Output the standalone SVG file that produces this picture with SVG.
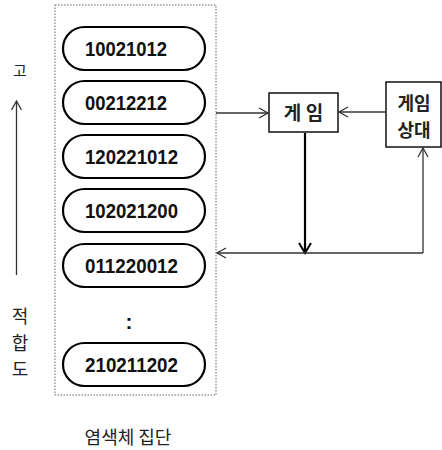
<svg xmlns="http://www.w3.org/2000/svg" width="442" height="450" viewBox="0 0 442 450">
<defs>
<style>
.pill{fill:#fff;stroke:#000;stroke-width:2.2}
.num{font-family:"Liberation Sans","Noto Sans CJK KR",sans-serif;font-weight:bold;font-size:21px;fill:#111}
.kr{font-family:"Noto Sans CJK KR","Liberation Sans",sans-serif;fill:#222}
.box{fill:#fff;stroke:#111;stroke-width:1.5}
.ln{fill:none;stroke:#333;stroke-width:1.3}
</style>
<marker id="ah" markerWidth="12" markerHeight="12" refX="10" refY="6" orient="auto" markerUnits="userSpaceOnUse">
<path d="M1,1 L10,6 L1,11" fill="none" stroke="#333" stroke-width="1.3"/>
</marker>
<marker id="ahb" markerWidth="14" markerHeight="14" refX="11" refY="7" orient="auto" markerUnits="userSpaceOnUse">
<path d="M1,1 L11,7 L1,13" fill="none" stroke="#000" stroke-width="2"/>
</marker>
</defs>
<rect x="0" y="0" width="442" height="450" fill="#fff"/>

<g id="axis">
<text class="kr" x="20" y="76" font-size="15" text-anchor="middle">고</text>
<line class="ln" x1="16.5" y1="275" x2="16.5" y2="101" marker-end="url(#ah)"/>
<text class="kr" x="20" y="323" font-size="18" text-anchor="middle">적</text>
<text class="kr" x="20" y="350" font-size="18" text-anchor="middle">합</text>
<text class="kr" x="20" y="376" font-size="18" text-anchor="middle">도</text>
</g>

<g id="population">
<rect x="55" y="5" width="161" height="390" fill="none" stroke="#666" stroke-width="1" stroke-dasharray="1.5,1.5"/>
<text class="kr" x="128" y="444" font-size="18" text-anchor="middle">염색체 집단</text>
</g>

<g id="c1"><rect class="pill" x="63" y="27" width="142" height="43" rx="21.5"/><text class="num" x="85" y="56" textLength="82" lengthAdjust="spacingAndGlyphs">10021012</text></g>
<g id="c2"><rect class="pill" x="63" y="81" width="142" height="43" rx="21.5"/><text class="num" x="85" y="110" textLength="82" lengthAdjust="spacingAndGlyphs">00212212</text></g>
<g id="c3"><rect class="pill" x="63" y="135" width="142" height="43" rx="21.5"/><text class="num" x="85" y="164" textLength="93" lengthAdjust="spacingAndGlyphs">120221012</text></g>
<g id="c4"><rect class="pill" x="63" y="189" width="142" height="43" rx="21.5"/><text class="num" x="85" y="218" textLength="93" lengthAdjust="spacingAndGlyphs">102021200</text></g>
<g id="c5"><rect class="pill" x="63" y="244" width="142" height="43" rx="21.5"/><text class="num" x="85" y="273" textLength="93" lengthAdjust="spacingAndGlyphs">011220012</text></g>
<g id="dots"><text class="num" x="129" y="329" font-size="28" text-anchor="middle">:</text></g>
<g id="c6"><rect class="pill" x="63" y="343" width="142" height="43" rx="21.5"/><text class="num" x="85" y="372" textLength="93" lengthAdjust="spacingAndGlyphs">210211202</text></g>

<g id="game"><rect class="box" x="269" y="93" width="69" height="39"/><text class="kr" x="303.5" y="119.5" font-size="19" font-weight="bold" text-anchor="middle">게 임</text></g>
<g id="opponent"><rect class="box" x="386" y="82" width="55" height="65"/><text class="kr" x="414" y="110" font-size="18" font-weight="bold" text-anchor="middle">게임</text><text class="kr" x="414" y="137" font-size="18" font-weight="bold" text-anchor="middle">상대</text></g>

<g id="connectors">
<line class="ln" x1="216" y1="113" x2="268" y2="113" marker-end="url(#ah)"/>
<line class="ln" x1="386" y1="112" x2="339" y2="112" marker-end="url(#ah)"/>
<line x1="305" y1="133" x2="305" y2="253" stroke="#000" stroke-width="2.2" marker-end="url(#ahb)"/>
<polyline class="ln" points="423,253 423,148" marker-end="url(#ah)"/>
<line class="ln" x1="423" y1="253" x2="217" y2="253" marker-end="url(#ah)"/>
</g>
</svg>
